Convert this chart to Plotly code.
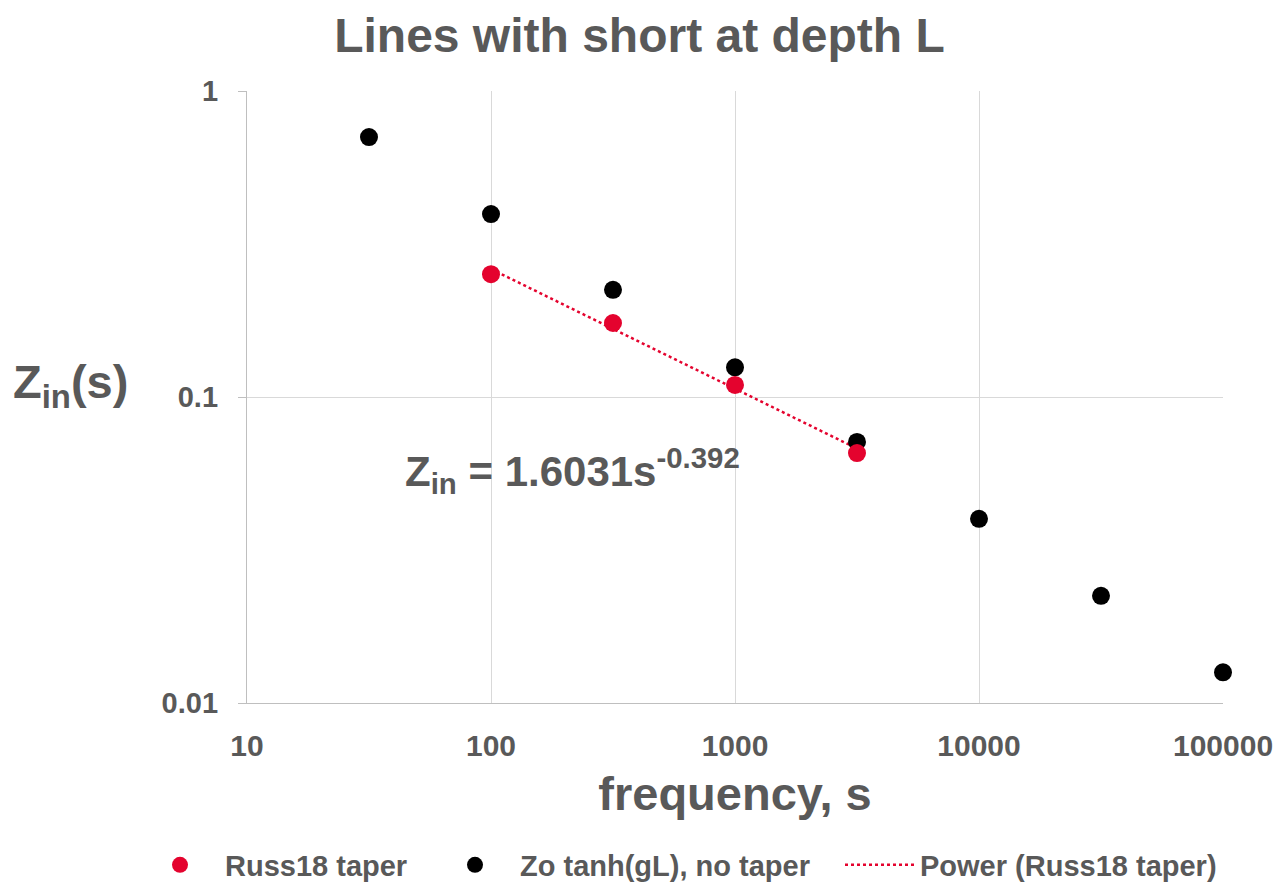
import numpy as np
import plotly.graph_objects as go

# ---- data ----
freq_black = [31.62, 100, 316.2, 1000, 3162, 10000, 31623, 100000]
z_black = [0.707, 0.396, 0.224, 0.125, 0.0713, 0.040, 0.0224, 0.0126]

freq_red = [100, 316.2, 1000, 3162]
z_red = [0.252, 0.1745, 0.1095, 0.0656]

x_ticks = [10, 100, 1000, 10000, 100000]
x_tick_labels = ["10", "100", "1000", "10000", "100000"]
y_ticks = [0.01, 0.1, 1]
y_tick_labels = ["0.01", "0.1", "1"]

# power-law trendline fitted to the red series (as Excel does)
slope, intercept = np.polyfit(np.log10(freq_red), np.log10(z_red), 1)
trend_x = np.array([freq_red[0], freq_red[-1]])
trend_y = 10 ** (intercept + slope * np.log10(trend_x))

RED = "#E4032E"
GREY = "#595959"
FONT = "Liberation Sans, Arial, sans-serif"
L, R, T, B = 247, 56, 91, 179
PW, PH = 1279 - L - R, 882 - T - B


def px_x(p):
    return (p - L) / PW


def px_y(p):
    return (882 - B - p) / PH


fig = go.Figure()
fig.add_trace(go.Scatter(x=trend_x, y=trend_y, mode="lines", name="Power (Russ18 taper)",
                         line=dict(color=RED, width=2.5, dash="dot"), legend="legend3",
                         cliponaxis=False))
fig.add_trace(go.Scatter(x=freq_black, y=z_black, mode="markers", name="Zo tanh(gL), no taper",
                         marker=dict(color="black", size=18), legend="legend2", cliponaxis=False))
fig.add_trace(go.Scatter(x=freq_red, y=z_red, mode="markers", name="Russ18 taper",
                         marker=dict(color=RED, size=18), legend="legend", cliponaxis=False))

leg_common = dict(orientation="h", xanchor="left", yanchor="middle", y=px_y(865),
                  font=dict(size=29, color=GREY, weight="bold"), bgcolor="rgba(0,0,0,0)")

fig.update_layout(
    width=1279, height=882,
    margin=dict(l=L, r=R, t=T, b=B, autoexpand=False),
    paper_bgcolor="white", plot_bgcolor="white",
    font=dict(family=FONT, color=GREY),
    title=dict(text="<b>Lines with short at depth L</b>", x=0.5, xanchor="center",
               y=1 - 35 / 882, yanchor="middle", font=dict(size=48, color=GREY)),
    showlegend=True,
    legend=dict(x=px_x(135), itemwidth=80, **leg_common),
    legend2=dict(x=px_x(430), itemwidth=80, **leg_common),
    legend3=dict(x=px_x(840), itemwidth=70, **leg_common),
)
fig.update_xaxes(type="log", range=[1, 5], tickvals=x_ticks, ticktext=[f"<b>{t}</b>" for t in x_tick_labels],
                 tickfont=dict(size=30, color=GREY), showgrid=True, gridcolor="#D9D9D9", gridwidth=1.3,
                 showline=True, linecolor="#BFBFBF", linewidth=1.3, ticks="", zeroline=False,
                 ticklabelstandoff=16,
                 title=dict(text="<b>frequency, s</b>", font=dict(size=47, color=GREY), standoff=15))
fig.update_yaxes(type="log", range=[-2, 0], tickvals=y_ticks, ticktext=[f"<b>{t}</b>" for t in y_tick_labels],
                 tickfont=dict(size=29, color=GREY), showgrid=True, gridcolor="#D9D9D9", gridwidth=1.3,
                 showline=True, linecolor="#BFBFBF", linewidth=1.3, ticks="outside", ticklen=8,
                 tickcolor="#BFBFBF", zeroline=False, ticklabelstandoff=14)

fig.add_annotation(text="<b>Z<sub>in</sub>(s)</b>", xref="paper", yref="paper",
                   x=px_x(70), y=px_y(385), showarrow=False,
                   font=dict(size=47, color=GREY), xanchor="center", yanchor="middle")
fig.add_annotation(text="<b>Z<sub>in</sub> = 1.6031s<sup>-0.392</sup></b>", xref="paper", yref="paper",
                   x=px_x(572), y=px_y(470), showarrow=False,
                   font=dict(size=42, color=GREY), xanchor="center", yanchor="middle")

fig.write_html("out.html")
